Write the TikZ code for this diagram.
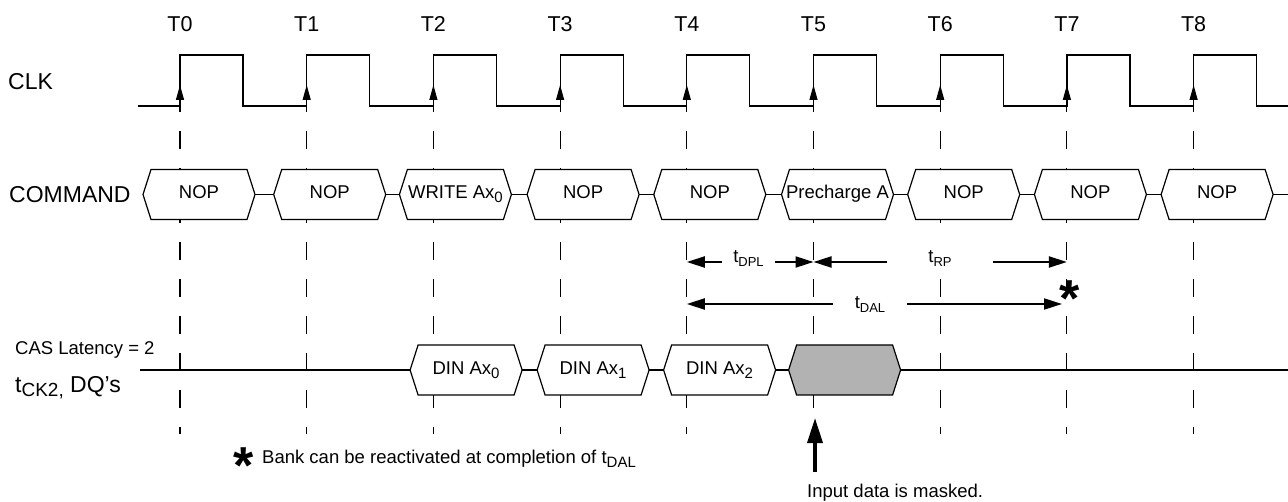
\documentclass[tikz,border=0pt]{standalone}
\usepackage{fontspec}
\setmainfont{Liberation Sans}
\usetikzlibrary{arrows.meta}

% lowered subscript in the sans text
\newcommand{\dsub}[2][13]{\raisebox{-4pt}{\fontsize{#1}{#1}\selectfont #2}}

\tikzset{
  sig/.style={line width=1.2pt},
  guide/.style={line width=1.1pt, dash pattern=on 18pt off 19pt, dash phase=12pt},
  clkarrow/.style={-{Triangle[length=15pt,width=8pt]}, line width=1.2pt},
  busfill/.store in=\busfillcolor,
  busfill=white,
  bustext/.style={inner sep=0pt, text height=13.5pt, text depth=4.5pt,
    font=\fontsize{18.5}{20}\selectfont},
  bus/.pic={
    \draw[line width=1.2pt, fill=\busfillcolor]
      (-56,0) -- (-48,-25) -- (48,-25) -- (56,0) -- (48,25) -- (-48,25) -- cycle;
    \node[bustext] (-t) at (0,0) {#1};
    \coordinate (-w) at (-56,0);
    \coordinate (-e) at (56,0);
  },
  tlabel/.style={anchor=base, inner sep=0pt, font=\fontsize{21.5}{24}\selectfont},
  siglabel/.style={anchor=base west, inner sep=0pt, font=\fontsize{23}{26}\selectfont},
  smalllabel/.style={anchor=base west, inner sep=0pt, font=\fontsize{18.5}{20}\selectfont},
  dimlbl/.style={anchor=base, fill=white, inner sep=0pt, minimum height=36pt,
    font=\fontsize{18.5}{20}\selectfont},
  dim/.style={-{Triangle[length=18pt,width=11pt]}, line width=2pt},
  maskarrow/.style={-{Triangle[length=25pt,width=15pt]}, line width=3.5pt},
  asterisk/.style={anchor=base, inner sep=0pt, font=\fontsize{52}{52}\selectfont\bfseries}
}

\begin{document}
\begin{tikzpicture}[x=1pt, y=-1pt]
\useasboundingbox (0,0) rectangle (1288,502);

% Clock edges
\coordinate (t0) at (180,106);
\coordinate (t1) at (306.7,106);
\coordinate (t2) at (433.4,106);
\coordinate (t3) at (560.1,106);
\coordinate (t4) at (686.8,106);
\coordinate (t5) at (813.5,106);
\coordinate (t6) at (940.2,106);
\coordinate (t7) at (1066.9,106);
\coordinate (t8) at (1193.6,106);

% Guide lines
\draw[guide] (t0) -- ++(0,328);
\draw[guide] (t1) -- ++(0,328);
\draw[guide] (t2) -- ++(0,328);
\draw[guide] (t3) -- ++(0,328);
\draw[guide] (t4) -- ++(0,328);
\draw[guide] (t5) -- ++(0,328);
\draw[guide] (t6) -- ++(0,328);
\draw[guide] (t7) -- ++(0,328);
\draw[guide] (t8) -- ++(0,328);

% Clock
\draw[sig] (138,106) -- (t0) |- (243,55) |- (t1) |- (369.7,55) |- (t2)
  |- (496.4,55) |- (t3) |- (623.1,55) |- (t4) |- (749.8,55) |- (t5)
  |- (876.5,55) |- (t6) |- (1003.2,55) |- (t7) |- (1129.9,55) |- (t8)
  |- (1256.6,55) |- (1288,106);
\draw[clkarrow] (t0) -- ++(0,-21);
\draw[clkarrow] (t1) -- ++(0,-21);
\draw[clkarrow] (t2) -- ++(0,-21);
\draw[clkarrow] (t3) -- ++(0,-21);
\draw[clkarrow] (t4) -- ++(0,-21);
\draw[clkarrow] (t5) -- ++(0,-21);
\draw[clkarrow] (t6) -- ++(0,-21);
\draw[clkarrow] (t7) -- ++(0,-21);
\draw[clkarrow] (t8) -- ++(0,-21);

% Tick labels
\node[tlabel] (T0) at (180,32) {T0};
\node[tlabel] (T1) at (306.7,32) {T1};
\node[tlabel] (T2) at (433.4,32) {T2};
\node[tlabel] (T3) at (560.1,32) {T3};
\node[tlabel] (T4) at (686.8,32) {T4};
\node[tlabel] (T5) at (813.5,32) {T5};
\node[tlabel] (T6) at (940.2,32) {T6};
\node[tlabel] (T7) at (1066.9,32) {T7};
\node[tlabel] (T8) at (1193.6,32) {T8};

% Signal names
\node[siglabel] (clk) at (8,90) {CLK};
\node[siglabel] (command) at (9,203) {COMMAND};
\node[smalllabel] (cas) at (15,355) {CAS Latency = 2};
\node[siglabel] (dq) at (15,393) {t\dsub[19]{CK2,} DQ’s};

% Command bus
\pic (c0) at (199,194.5) {bus={NOP}};
\pic (c1) at (329.7,194.5) {bus={NOP}};
\pic (c2) at (455.4,194.5) {bus={WRITE Ax\dsub[15]{0}}};
\pic (c3) at (583.1,194.5) {bus={NOP}};
\pic (c4) at (709.8,194.5) {bus={NOP}};
\pic (c5) at (837.5,194.5) {bus={Precharge A}};
\pic (c6) at (963.7,194.5) {bus={NOP}};
\pic (c7) at (1090.4,194.5) {bus={NOP}};
\pic (c8) at (1217.1,194.5) {bus={NOP}};
\coordinate (cend) at (1288,194.5);
\draw[sig] (c0-e) -- (c1-w);
\draw[sig] (c1-e) -- (c2-w);
\draw[sig] (c2-e) -- (c3-w);
\draw[sig] (c3-e) -- (c4-w);
\draw[sig] (c4-e) -- (c5-w);
\draw[sig] (c5-e) -- (c6-w);
\draw[sig] (c6-e) -- (c7-w);
\draw[sig] (c7-e) -- (c8-w);
\draw[sig] (c8-e) -- (cend);

% Data bus
\coordinate (dqstart) at (140,370);
\coordinate (dqend) at (1288,370);
\pic (d2) at (466.1,370) {bus={DIN Ax\dsub[15]{0}}};
\pic (d3) at (593.1,370) {bus={DIN Ax\dsub[15]{1}}};
\pic (d4) at (719.6,370) {bus={DIN Ax\dsub[15]{2}}};
\pic[busfill=black!30] (d5) at (844.6,370) {bus={}};
\draw[sig] (dqstart) -- (d2-w);
\draw[sig] (d2-e) -- (d3-w);
\draw[sig] (d3-e) -- (d4-w);
\draw[sig] (d4-e) -- (d5-w);
\draw[sig] (d5-e) -- (dqend);

% Timing
\coordinate (rowA) at (0,262);
\coordinate (rowB) at (0,304);
\coordinate (dalend) at (1062,304);
\node[dimlbl, minimum width=53pt] (dpl) at (748.5,263) {t\dsub{DPL}};
\node[dimlbl, minimum width=106pt] (rp) at (940,263) {t\dsub{RP}};
\node[dimlbl, minimum width=74pt] (dal) at (870,309) {t\dsub{DAL}};
\draw[dim] (dpl.west |- rowA) -- (t4 |- rowA);
\draw[dim] (dpl.east |- rowA) -- (t5 |- rowA);
\draw[dim] (rp.west |- rowA) -- (t5 |- rowA);
\draw[dim] (rp.east |- rowA) -- (t7 |- rowA);
\draw[dim] (dal.west |- rowB) -- (t4 |- rowB);
\draw[dim] (dal.east |- rowB) -- (dalend);
\node[asterisk] (astA) at (1070,317) {*};

% Notes
\node[asterisk] (astB) at (244,483) {*};
\node[smalllabel] (note) at (262,464) {Bank can be reactivated at completion of t\dsub[15]{DAL}};
\node[smalllabel] (mask) at (807,497) {Input data is masked.};
\coordinate (masktip) at (815,418);
\draw[maskarrow] (masktip |- mask.north) ++(0,-11) -- (masktip);
\end{tikzpicture}
\end{document}
